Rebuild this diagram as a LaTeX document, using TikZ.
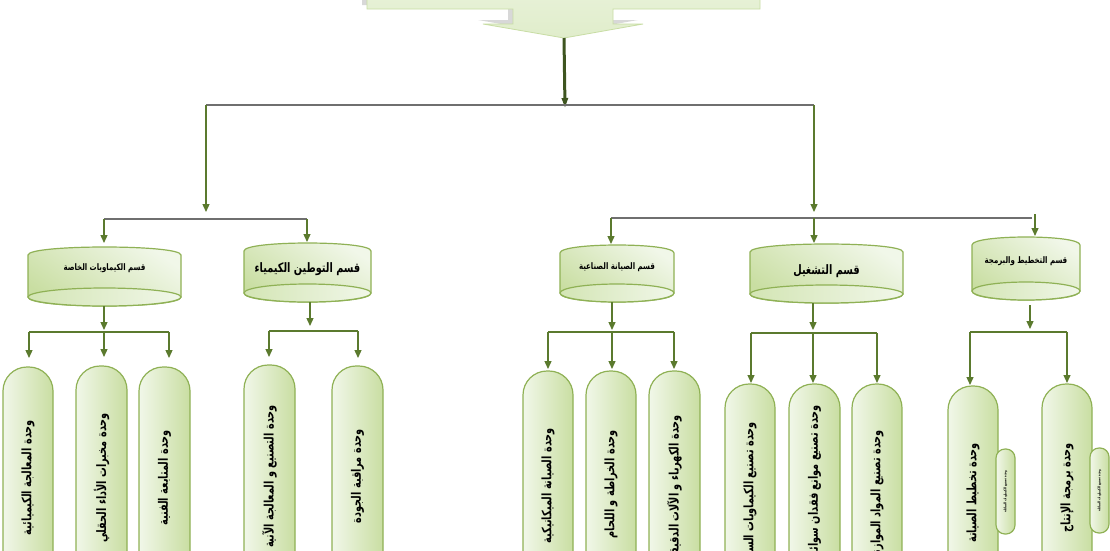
\documentclass[tikz,border=0pt]{standalone}
\usepackage{fontspec}
\usetikzlibrary{arrows.meta}
\TeXXeTstate=1
\newfontfamily\arb[Script=Arabic,FakeStretch=0.78]{DejaVu Sans}
\newfontfamily\arbc[Script=Arabic,FakeStretch=0.75]{DejaVu Sans}
\definecolor{olv}{HTML}{5B7A2E}
\definecolor{bargray}{HTML}{6F6F6F}
\definecolor{darkolv}{HTML}{3E5520}
\definecolor{edgegreen}{HTML}{8FB155}
\definecolor{gdark}{HTML}{C9DEA2}
\definecolor{glight}{HTML}{F1F7E9}
\definecolor{gmid}{HTML}{E6F0D6}
\definecolor{gbase}{HTML}{D3E5B4}
\definecolor{calfill}{HTML}{E0EDCB}
\definecolor{caledge}{HTML}{C8DDA4}
\tikzset{
  boxn/.style={draw=none,fill=none,inner sep=0pt,outer sep=0pt,rectangle},
  pillsh/.style={draw=edgegreen,line width=1.2pt,left color=glight,middle color=gmid,right color=gdark,rounded corners=24pt},
  cylsh/.style={draw=edgegreen,line width=1.2pt,top color=glight,bottom color=gdark,shading angle=-35},
  cylbase/.style={draw=edgegreen,line width=1.2pt,left color=gbase,right color=glight},
  arr/.style={draw=olv,line width=1.3pt,-{Triangle[length=8pt,width=7pt]}},
  bartop/.style={draw=bargray,line width=1.8pt},
  barlow/.style={draw=olv,line width=1.3pt},
  mainarr/.style={draw=darkolv,line width=3pt,-{Triangle[length=10pt,width=6pt]}},
  pilltxt/.style={rotate=90,inner sep=0pt,font=\arbc\bfseries\fontsize{13}{15}\selectfont},
  bigtxt/.style={inner sep=0pt,font=\arbc\bfseries\fontsize{13}{15}\selectfont},
  smalltxt/.style={inner sep=0pt,font=\arb\bfseries\fontsize{9}{11}\selectfont},
  tinytxt/.style={rotate=90,inner sep=0pt,font=\arb\bfseries\fontsize{3.6}{4}\selectfont},
}
\newcommand\mycyl[8]{% name, xl, xr, yt, yb, text y, style, text
  \pgfmathsetmacro\qxm{(#2+#3)/2}%
  \pgfmathsetmacro\qw{#3-#2}%
  \pgfmathsetmacro\qhw{(#3-#2)/2}%
  \pgfmathsetmacro\qh{#5-#4}%
  \pgfmathsetmacro\qym{(#4+#5)/2}%
  \pgfmathsetmacro\qya{#4+8}%
  \pgfmathsetmacro\qyc{#4+8-10.667}%
  \pgfmathsetmacro\qyb{#5-9}%
  \pgfmathsetmacro\qyd{#5-9+12}%
  \path[cylsh] (#2,\qya) .. controls (#2,\qyc) and (#3,\qyc) .. (#3,\qya) -- (#3,\qyb) .. controls (#3,\qyd) and (#2,\qyd) .. (#2,\qyb) -- cycle;
  \path[cylbase] (\qxm,\qyb) ellipse [x radius=\qhw, y radius=9];
  \node[boxn,minimum width=\qw pt,minimum height=\qh pt] (#1) at (\qxm,\qym) {};
  \node[#7] (#1t) at (\qxm,#6) {#8};
}
\newcommand\mypill[6]{% name, xl, xr, yt, text start y, text
  \pgfmathsetmacro\qxm{(#2+#3)/2}%
  \pgfmathsetmacro\qw{#3-#2}%
  \pgfmathsetmacro\qh{580-#4}%
  \pgfmathsetmacro\qym{(#4+580)/2}%
  \path[pillsh] (#2,580) -- (#2,#4) -- (#3,#4) -- (#3,580) -- cycle;
  \node[boxn,minimum width=\qw pt,minimum height=\qh pt] (#1) at (\qxm,\qym) {};
  \node[pilltxt,anchor=east] (#1t) at (\qxm,#5) {#6};
}
\newcommand\mysmallpill[6]{% name, xl, xr, yt, yb, text
  \pgfmathsetmacro\qxm{(#2+#3)/2}%
  \pgfmathsetmacro\qym{(#4+#5)/2}%
  \path[pillsh,rounded corners=9pt] (#2,#4) rectangle (#3,#5);
  \node[tinytxt] (#1) at (\qxm,\qym) {#6};
}
\begin{document}
\begin{tikzpicture}[x=1pt,y=-1pt]
\useasboundingbox (0,0) rectangle (1110,550);
\clip (0,0) rectangle (1110,550);
\fill[white] (0,0) rectangle (1110,550);

% top callout
\fill[gray,opacity=0.3] (362,-40) -- (755,-40) -- (755,5) -- (608,5) -- (608,20) -- (638,20) -- (559,34) -- (478,20) -- (508,20) -- (508,5) -- (362,5) -- cycle;
\path[draw=caledge,line width=0.8pt,top color=calfill!60!white,bottom color=calfill] (367,-40) -- (760,-40) -- (760,9) -- (613,9) -- (613,24) -- (643,24) -- (564,38) -- (483,24) -- (513,24) -- (513,9) -- (367,9) -- cycle;
\coordinate (callouttip) at (564,38);
\coordinate (mainend) at (565,108);
\draw[mainarr] (callouttip) -- (mainend);

% level 1 bar
\coordinate (barL) at (206,105);
\coordinate (barR) at (814,105);
\coordinate (l1L) at (206,212);
\coordinate (l1R) at (814,212);
\draw[bartop] (barL) -- (barR);
\draw[arr] (barL) -- (l1L);
\draw[arr] (barR) -- (l1R);

% cylinders
\mycyl{c1}{28}{181}{247}{306}{268}{smalltxt}{\beginR قسم الكيماويات الخاصة\endR}
\mycyl{c2}{244}{371}{243}{302}{269}{bigtxt}{\beginR قسم التوطين الكيمياء\endR}
\mycyl{c3}{560}{674}{245}{302}{267}{smalltxt}{\beginR قسم الصيانة الصناعية\endR}
\mycyl{c4}{750}{903}{244}{303}{271}{bigtxt}{\beginR قسم التشغيل\endR}
\mycyl{c5}{972}{1080}{237}{300}{261}{smalltxt}{\beginR قسم التخطيط والبرمجة\endR}

% level 2 bars
\coordinate (jL1) at (104,219);
\coordinate (jL2) at (307,219);
\draw[bartop,line width=1.5pt] (jL1) -- (jL2);
\draw[arr,shorten >=4pt] (jL1) -- (jL1 |- c1.north);
\draw[arr,shorten >=1pt] (jL2) -- (jL2 |- c2.north);
\coordinate (jR1) at (611,218);
\coordinate (jR2) at (814,218);
\coordinate (jR3) at (1032,218);
\coordinate (jR4) at (1035,214);
\draw[bartop,line width=1.5pt] (jR1) -- (jR3);
\draw[arr,shorten >=1pt] (jR1) -- (jR1 |- c3.north);
\draw[arr,shorten >=1pt] (jR2) -- (jR2 |- c4.north);
\draw[arr,shorten >=1pt] (jR4) -- (jR4 |- c5.north);

% pills
\mypill{p1}{3}{53}{367}{420}{\beginR وحدة المعالجة  الكيميائية\endR}
\mypill{p2}{76}{127}{366}{413}{\beginR وحدة مخبرات الأداء الحقلي\endR}
\mypill{p3}{139}{190}{367}{430}{\beginR وحدة المتابعة الفنية\endR}
\mypill{p4}{244}{295}{365}{405}{\beginR وحدة التصنيع و المعالجة الآنية\endR}
\mypill{p5}{332}{383}{366}{429}{\beginR وحدة مراقبة الجودة\endR}
\mypill{p6}{523}{573}{371}{428}{\beginR وحدة الصيانة الميكانيكية\endR}
\mypill{p7}{586}{636}{371}{430}{\beginR وحدة الخراطة و اللحام\endR}
\mypill{p8}{649}{700}{371}{415}{\beginR وحدة الكهرباء و الآلات الدقيقة\endR}
\mypill{p9}{725}{775}{384}{422}{\beginR وحدة تصنيع الكيماويات السائلة\endR}
\mypill{p10}{789}{840}{384}{405}{\beginR وحدة تصنيع موانع فقدان سوائل الحفر\endR}
\mypill{p11}{852}{902}{384}{430}{\beginR وحدة تصنيع المواد الموازنة\endR}
\mypill{p12}{948}{998}{386}{443}{\beginR وحدة تخطيط الصيانة\endR}
\mypill{p13}{1042}{1092}{384}{443}{\beginR وحدة برمجة الإنتاج\endR}
\mysmallpill{s1}{996}{1015}{449}{534}{\beginR وحدة تصنيع الكيماويات السائلة\endR}
\mysmallpill{s2}{1090}{1109}{448}{533}{\beginR وحدة تصنيع الكيماويات السائلة\endR}

% level 3: group 1
\coordinate (g1a) at (104,330);
\draw[arr] (g1a |- c1.south) -- (g1a);
\coordinate (g1l) at (29,332);
\coordinate (g1m) at (104,332);
\coordinate (g1r) at (169,332);
\draw[barlow] (g1l) -- (g1r);
\foreach \j/\p in {g1l/p1,g1m/p2,g1r/p3} \draw[arr,shorten >=9pt] (\j) -- (\j |- \p.north);
% group 2
\coordinate (g2a) at (310,326);
\draw[arr] (g2a |- c2.south) -- (g2a);
\coordinate (g2l) at (269,331);
\coordinate (g2r) at (358,331);
\draw[barlow] (g2l) -- (g2r);
\foreach \j/\p in {g2l/p4,g2r/p5} \draw[arr,shorten >=8pt] (\j) -- (\j |- \p.north);
% group 3
\coordinate (g3a) at (612,330);
\draw[arr] (g3a |- c3.south) -- (g3a);
\coordinate (g3l) at (548,332);
\coordinate (g3m) at (612,332);
\coordinate (g3r) at (674,332);
\draw[barlow] (g3l) -- (g3r);
\foreach \j/\p in {g3l/p6,g3m/p7,g3r/p8} \draw[arr,shorten >=2pt] (\j) -- (\j |- \p.north);
% group 4
\coordinate (g4a) at (813,330);
\draw[arr] (g4a |- c4.south) -- (g4a);
\coordinate (g4l) at (751,333);
\coordinate (g4m) at (813,333);
\coordinate (g4r) at (877,333);
\draw[barlow] (g4l) -- (g4r);
\foreach \j/\p in {g4l/p9,g4m/p10,g4r/p11} \draw[arr,shorten >=1pt] (\j) -- (\j |- \p.north);
% group 5
\coordinate (g5s) at (1030,305);
\coordinate (g5a) at (1030,329);
\draw[arr] (g5s) -- (g5a);
\coordinate (g5l) at (970,332);
\coordinate (g5r) at (1067,332);
\draw[barlow] (g5l) -- (g5r);
\foreach \j/\p in {g5l/p12,g5r/p13} \draw[arr,shorten >=1pt] (\j) -- (\j |- \p.north);
\end{tikzpicture}
\end{document}
